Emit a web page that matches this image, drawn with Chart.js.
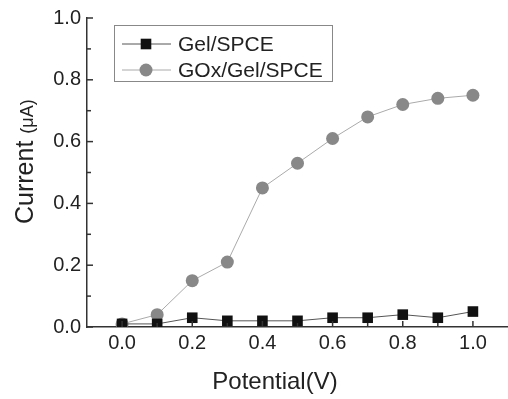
<!DOCTYPE html>
<html>
<head>
<meta charset="utf-8">
<script src="https://cdn.jsdelivr.net/npm/chart.js@4.4.1/dist/chart.umd.min.js"></script>
<style>
  body { margin: 0; background: #fff; }
  #wrap { width: 508px; height: 399px; position: relative; }
</style>
</head>
<body>
<div id="wrap"><canvas id="cvChart"></canvas></div>
<script>
// data
const potential = [0.0, 0.1, 0.2, 0.3, 0.4, 0.5, 0.6, 0.7, 0.8, 0.9, 1.0];
const gelSpce = [0.01, 0.01, 0.03, 0.02, 0.02, 0.02, 0.03, 0.03, 0.04, 0.03, 0.05];
const goxGelSpce = [0.01, 0.04, 0.15, 0.21, 0.45, 0.53, 0.61, 0.68, 0.72, 0.74, 0.75];
const xTickValues = [0.0, 0.2, 0.4, 0.6, 0.8, 1.0];
const yTickValues = [0.0, 0.2, 0.4, 0.6, 0.8, 1.0];
const seriesNames = ['Gel/SPCE', 'GOx/Gel/SPCE'];

const FONT = '"Liberation Sans", Arial, sans-serif';
const TXT = '#222';

// inward ticks, axis titles and the boxed legend
const decorPlugin = {
  id: 'decor',
  afterDraw(chart) {
    const ctx = chart.ctx;
    const xs = chart.scales.x, ys = chart.scales.y;
    ctx.save();
    ctx.strokeStyle = '#333';
    ctx.lineWidth = 1.5;
    // x ticks (point up into the plot)
    for (let v = 0; v <= 10; v++) {
      const px = xs.getPixelForValue(v / 10);
      const len = v % 2 === 0 ? 6 : 4;
      ctx.beginPath();
      ctx.moveTo(px, xs.top);
      ctx.lineTo(px, xs.top - len);
      ctx.stroke();
    }
    // y ticks (point right)
    for (let v = 0; v <= 10; v++) {
      const py = ys.getPixelForValue(v / 10);
      const len = v % 2 === 0 ? 6 : 4;
      ctx.beginPath();
      ctx.moveTo(ys.right, py);
      ctx.lineTo(ys.right + len, py);
      ctx.stroke();
    }

    // x title
    ctx.fillStyle = TXT;
    ctx.font = '24px ' + FONT;
    ctx.textAlign = 'center';
    ctx.textBaseline = 'middle';
    ctx.fillText('Potential(V)', 275, 382);

    // y title, "Current" + smaller "(μA)"
    ctx.save();
    ctx.translate(33, 224);
    ctx.rotate(-Math.PI / 2);
    ctx.textAlign = 'left';
    ctx.textBaseline = 'alphabetic';
    ctx.font = '25px ' + FONT;
    ctx.fillText('Current', 0, 0);
    const w = ctx.measureText('Current ').width;
    ctx.font = '18px ' + FONT;
    ctx.fillText('(μA)', w, 0);
    ctx.restore();

    // legend box
    ctx.strokeStyle = '#888';
    ctx.lineWidth = 1;
    ctx.strokeRect(114.5, 25.5, 218, 56);
    const rows = [44, 70];
    chart.data.datasets.forEach((ds, i) => {
      const y = rows[i];
      ctx.strokeStyle = ds.borderColor;
      ctx.lineWidth = ds.borderWidth;
      ctx.beginPath();
      ctx.moveTo(122, y);
      ctx.lineTo(171, y);
      ctx.stroke();
      ctx.fillStyle = ds.pointBackgroundColor;
      ctx.strokeStyle = ds.pointBorderColor;
      Chart.helpers.drawPoint(ctx, {pointStyle: ds.pointStyle, radius: ds.pointRadius, borderWidth: 0}, 146, y);
      ctx.fillStyle = TXT;
      ctx.font = '21px ' + FONT;
      ctx.textAlign = 'left';
      ctx.textBaseline = 'middle';
      ctx.fillText(seriesNames[i], 178, y + 1);
    });
    ctx.restore();
  }
};

const tickFont = { family: FONT, size: 20 };

new Chart(document.getElementById('cvChart'), {
  type: 'line',
  data: {
    datasets: [
      {
        label: seriesNames[0],
        data: potential.map((x, i) => ({ x: x, y: gelSpce[i] })),
        borderColor: '#555',
        borderWidth: 1,
        pointStyle: 'rect',
        pointRadius: 7.5,
        pointBackgroundColor: '#111',
        pointBorderColor: '#111',
        pointBorderWidth: 0,
        order: 0
      },
      {
        label: seriesNames[1],
        data: potential.map((x, i) => ({ x: x, y: goxGelSpce[i] })),
        borderColor: '#aaa',
        borderWidth: 1,
        pointStyle: 'circle',
        pointRadius: 6.5,
        pointBackgroundColor: '#888',
        pointBorderColor: '#888',
        pointBorderWidth: 0,
        order: 1
      }
    ]
  },
  options: {
    responsive: true,
    maintainAspectRatio: false,
    animation: false,
    layout: { autoPadding: false, padding: { top: 17, right: 0, left: 0, bottom: 0 } },
    plugins: {
      legend: { display: false },
      tooltip: { enabled: false }
    },
    scales: {
      x: {
        type: 'linear',
        min: -0.1,
        max: 1.1,
        afterBuildTicks: s => { s.ticks = xTickValues.map(v => ({ value: v })); },
        afterFit: s => { s.height = 72; },
        ticks: {
          callback: v => Number(v).toFixed(1),
          font: tickFont,
          color: TXT,
          padding: 4,
          maxRotation: 0,
          autoSkip: false
        },
        grid: { display: false, drawTicks: false },
        border: { display: true, color: '#333', width: 1.5 }
      },
      y: {
        min: 0,
        max: 1.0,
        afterBuildTicks: s => { s.ticks = yTickValues.map(v => ({ value: v })); },
        afterFit: s => { s.width = 87; },
        ticks: {
          callback: v => Number(v).toFixed(1),
          font: tickFont,
          color: TXT,
          padding: 6,
          autoSkip: false
        },
        grid: { display: false, drawTicks: false },
        border: { display: true, color: '#333', width: 1.5 }
      }
    }
  },
  plugins: [decorPlugin]
});
</script>
</body>
</html>
